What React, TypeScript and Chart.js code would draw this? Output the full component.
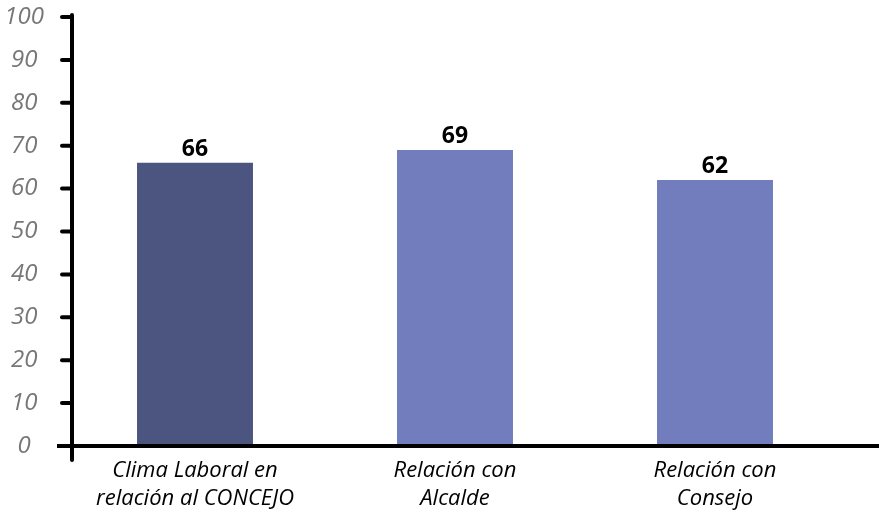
import React, { useEffect, useRef } from "react";
import { Chart, registerables } from "chart.js";

Chart.register(...registerables);

const categories: string[][] = [
  ["Clima Laboral en", "relación al CONCEJO"],
  ["Relación con", "Alcalde"],
  ["Relación con", "Consejo"],
];
const values: number[] = [66, 69, 62];
const barColors: string[] = ["#4b5580", "#717dbd", "#717dbd"];
const yTicks: number[] = [0, 10, 20, 30, 40, 50, 60, 70, 80, 90, 100];

// Thick black axes with short tick marks on the value axis
const axesPlugin = {
  id: "thickAxes",
  afterDatasetsDraw(chart: any) {
    const { ctx, chartArea, scales } = chart;
    const y = scales.y;
    const axisX = chartArea.left + 7;
    const baseY = y.getPixelForValue(0);
    ctx.save();
    ctx.strokeStyle = "#000";
    ctx.lineWidth = 4;
    ctx.lineCap = "round";
    // vertical axis
    ctx.beginPath();
    ctx.moveTo(axisX, y.getPixelForValue(100) - 2);
    ctx.lineTo(axisX, baseY + 14);
    ctx.stroke();
    // tick marks
    for (const v of yTicks) {
      const py = y.getPixelForValue(v);
      ctx.beginPath();
      ctx.moveTo(axisX - 10, py);
      ctx.lineTo(axisX, py);
      ctx.stroke();
    }
    // horizontal axis
    ctx.lineCap = "butt";
    ctx.beginPath();
    ctx.moveTo(axisX - 15, baseY);
    ctx.lineTo(chart.width, baseY);
    ctx.stroke();
    ctx.restore();
  },
};

// Value labels above each bar
const valueLabels = {
  id: "valueLabels",
  afterDatasetsDraw(chart: any) {
    const { ctx } = chart;
    const meta = chart.getDatasetMeta(0);
    ctx.save();
    ctx.fillStyle = "#000";
    ctx.font = "bold 23px 'Open Sans'";
    ctx.textAlign = "center";
    ctx.textBaseline = "alphabetic";
    meta.data.forEach((bar: any, i: number) => {
      ctx.fillText(String(values[i]), bar.x, bar.y - 7);
    });
    ctx.restore();
  },
};

export default function App() {
  const ref = useRef<HTMLCanvasElement>(null);
  useEffect(() => {
    if (!ref.current) return;
    const chart = new Chart(ref.current, {
      type: "bar",
      data: {
        labels: categories,
        datasets: [
          {
            data: values,
            backgroundColor: barColors,
            borderWidth: 0,
            barPercentage: 0.446,
            categoryPercentage: 1,
          },
        ],
      },
      options: {
        animation: false,
        responsive: false,
        devicePixelRatio: 1,
        layout: { padding: { top: 17, right: 34, left: 0, bottom: 0 } },
        plugins: { legend: { display: false }, tooltip: { enabled: false } },
        scales: {
          x: {
            grid: { display: false, drawTicks: false },
            border: { display: false },
            ticks: {
              color: "#000",
              font: { family: "'Open Sans'", size: 22, style: "italic", lineHeight: 1.25 },
              padding: 11,
              maxRotation: 0,
              autoSkip: false,
            },
            afterFit(scale: any) {
              scale.height = 67;
              scale.paddingLeft = 0;
              scale.paddingRight = 0;
            },
          },
          y: {
            min: 0,
            max: 100,
            grid: { display: false, drawTicks: false },
            border: { display: false },
            ticks: {
              stepSize: 10,
              color: "#777777",
              font: { family: "'Open Sans'", size: 24, style: "italic" },
              padding: 21,
              crossAlign: "center",
            },
            afterFit(scale: any) {
              scale.width = 65;
              scale.paddingTop = 0;
              scale.paddingBottom = 0;
            },
          },
        },
      },
      plugins: [axesPlugin, valueLabels],
    });
    return () => chart.destroy();
  }, []);
  return (
    <div style={{ position: "fixed", left: 0, top: 0, width: 879, height: 513, background: "#fff" }}>
      <canvas ref={ref} width={879} height={513} />
    </div>
  );
}
